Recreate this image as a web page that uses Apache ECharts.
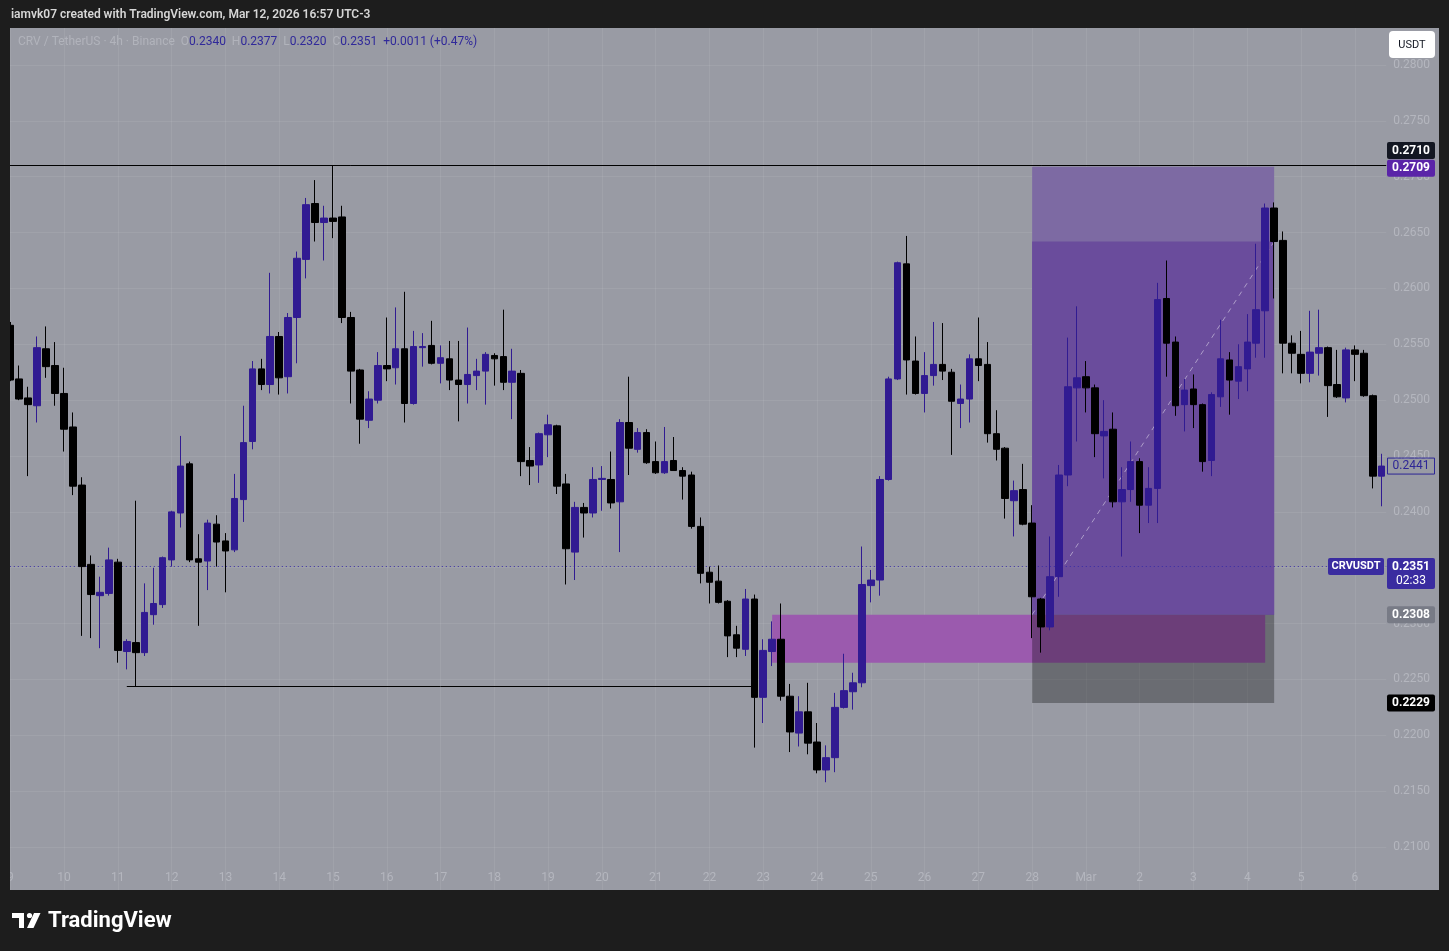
<!DOCTYPE html>
<html>
<head>
<meta charset="utf-8">
<title>CRV / TetherUS 4h</title>
<script src="https://cdn.jsdelivr.net/npm/echarts@6/dist/echarts.min.js"></script>
<style>
  html, body { margin: 0; padding: 0; background: #1d1d1d; }
  #chart { width: 1449px; height: 951px; }
</style>
</head>
<body>
<div id="chart"></div>
<script>
// 4h candles, Feb 9 00:00 -> Mar 6 12:00 (chart time UTC-3)
var opens = [
  0.2567, 0.2519, 0.2502, 0.2495, 0.2546, 0.2531, 0.2506, 0.2476, 0.2424, 0.2353,
  0.2325, 0.2327, 0.2355, 0.2275, 0.2283, 0.2274, 0.2308, 0.2317, 0.2357, 0.2399,
  0.2443, 0.2358, 0.2356, 0.2389, 0.2374, 0.2366, 0.2411, 0.2463, 0.2528, 0.2514,
  0.2557, 0.2521, 0.2574, 0.2626, 0.2676, 0.2659, 0.2663, 0.2664, 0.2574, 0.2527,
  0.2482, 0.2500, 0.2531, 0.2529, 0.2546, 0.2497, 0.2547, 0.2549, 0.2533, 0.2537,
  0.2518, 0.2514, 0.2522, 0.2526, 0.2540, 0.2539, 0.2516, 0.2524, 0.2446, 0.2442,
  0.2469, 0.2477, 0.2425, 0.2364, 0.2404, 0.2399, 0.2429, 0.2429, 0.2409, 0.2480,
  0.2456, 0.2471, 0.2445, 0.2435, 0.2446, 0.2437, 0.2433, 0.2387, 0.2346, 0.2338,
  0.2320, 0.2290, 0.2277, 0.2322, 0.2234, 0.2275, 0.2286, 0.2235, 0.2202, 0.2221,
  0.2194, 0.2169, 0.2180, 0.2225, 0.2239, 0.2247, 0.2334, 0.2339, 0.2429, 0.2519,
  0.2622, 0.2535, 0.2506, 0.2522, 0.2532, 0.2525, 0.2497, 0.2501, 0.2537, 0.2532,
  0.2470, 0.2457, 0.2410, 0.2420, 0.2390, 0.2322, 0.2297, 0.2342, 0.2433, 0.2511,
  0.2521, 0.2511, 0.2468, 0.2474, 0.2409, 0.2420, 0.2445, 0.2406, 0.2421, 0.2591,
  0.2552, 0.2496, 0.2510, 0.2496, 0.2446, 0.2503, 0.2536, 0.2517, 0.2528, 0.2551,
  0.2580, 0.2672, 0.2643, 0.2551, 0.2541, 0.2524, 0.2542, 0.2547, 0.2514, 0.2502,
  0.2545, 0.2542, 0.2504, 0.2432
];
var highs = [
  0.2570, 0.2531, 0.2512, 0.2557, 0.2566, 0.2552, 0.2529, 0.2489, 0.2431, 0.2361,
  0.2342, 0.2368, 0.2358, 0.2286, 0.2410, 0.2336, 0.2350, 0.2360, 0.2401, 0.2468,
  0.2445, 0.2380, 0.2393, 0.2397, 0.2381, 0.2434, 0.2495, 0.2535, 0.2537, 0.2614,
  0.2561, 0.2578, 0.2633, 0.2681, 0.2697, 0.2674, 0.2710, 0.2674, 0.2579, 0.2528,
  0.2508, 0.2543, 0.2574, 0.2583, 0.2597, 0.2562, 0.2560, 0.2571, 0.2549, 0.2553,
  0.2553, 0.2565, 0.2537, 0.2543, 0.2542, 0.2581, 0.2546, 0.2527, 0.2458, 0.2471,
  0.2487, 0.2478, 0.2434, 0.2409, 0.2408, 0.2440, 0.2441, 0.2454, 0.2483, 0.2521,
  0.2475, 0.2474, 0.2463, 0.2476, 0.2467, 0.2440, 0.2436, 0.2395, 0.2351, 0.2352,
  0.2321, 0.2298, 0.2331, 0.2326, 0.2286, 0.2302, 0.2318, 0.2246, 0.2235, 0.2247,
  0.2211, 0.2191, 0.2238, 0.2273, 0.2256, 0.2369, 0.2348, 0.2432, 0.2521, 0.2624,
  0.2647, 0.2557, 0.2543, 0.2570, 0.2569, 0.2528, 0.2514, 0.2541, 0.2574, 0.2552,
  0.2491, 0.2458, 0.2428, 0.2443, 0.2406, 0.2323, 0.2378, 0.2442, 0.2556, 0.2584,
  0.2535, 0.2514, 0.2500, 0.2489, 0.2440, 0.2463, 0.2448, 0.2440, 0.2605, 0.2625,
  0.2557, 0.2519, 0.2523, 0.2497, 0.2507, 0.2572, 0.2543, 0.2550, 0.2577, 0.2640,
  0.2676, 0.2677, 0.2651, 0.2558, 0.2562, 0.2580, 0.2581, 0.2548, 0.2545, 0.2547,
  0.2549, 0.2545, 0.2505, 0.2452
];
var lows = [
  0.2517, 0.2500, 0.2432, 0.2480, 0.2520, 0.2495, 0.2454, 0.2415, 0.2289, 0.2287,
  0.2278, 0.2325, 0.2265, 0.2259, 0.2244, 0.2271, 0.2299, 0.2314, 0.2351, 0.2386,
  0.2355, 0.2298, 0.2330, 0.2351, 0.2328, 0.2364, 0.2391, 0.2456, 0.2509, 0.2506,
  0.2505, 0.2506, 0.2533, 0.2609, 0.2642, 0.2625, 0.2645, 0.2569, 0.2497, 0.2461,
  0.2475, 0.2497, 0.2517, 0.2514, 0.2480, 0.2496, 0.2530, 0.2532, 0.2515, 0.2509,
  0.2481, 0.2497, 0.2509, 0.2496, 0.2513, 0.2509, 0.2483, 0.2432, 0.2424, 0.2426,
  0.2449, 0.2416, 0.2335, 0.2339, 0.2377, 0.2395, 0.2401, 0.2403, 0.2364, 0.2433,
  0.2453, 0.2443, 0.2434, 0.2434, 0.2437, 0.2411, 0.2385, 0.2336, 0.2318, 0.2318,
  0.2270, 0.2270, 0.2271, 0.2189, 0.2211, 0.2262, 0.2231, 0.2185, 0.2190, 0.2183,
  0.2166, 0.2158, 0.2167, 0.2224, 0.2223, 0.2243, 0.2319, 0.2325, 0.2428, 0.2518,
  0.2505, 0.2505, 0.2489, 0.2513, 0.2518, 0.2451, 0.2475, 0.2480, 0.2517, 0.2462,
  0.2446, 0.2394, 0.2378, 0.2388, 0.2287, 0.2274, 0.2294, 0.2324, 0.2423, 0.2463,
  0.2489, 0.2449, 0.2430, 0.2404, 0.2360, 0.2409, 0.2381, 0.2390, 0.2390, 0.2521,
  0.2486, 0.2472, 0.2475, 0.2436, 0.2432, 0.2494, 0.2487, 0.2501, 0.2508, 0.2538,
  0.2538, 0.2591, 0.2524, 0.2524, 0.2515, 0.2516, 0.2522, 0.2485, 0.2502, 0.2498,
  0.2517, 0.2503, 0.2421, 0.2405
];
var closes = [
  0.2518, 0.2501, 0.2496, 0.2547, 0.2530, 0.2506, 0.2474, 0.2423, 0.2351, 0.2326,
  0.2328, 0.2357, 0.2276, 0.2284, 0.2274, 0.2310, 0.2318, 0.2359, 0.2400, 0.2441,
  0.2357, 0.2355, 0.2390, 0.2373, 0.2365, 0.2412, 0.2462, 0.2528, 0.2514, 0.2557,
  0.2520, 0.2574, 0.2627, 0.2675, 0.2659, 0.2663, 0.2660, 0.2574, 0.2526, 0.2483,
  0.2501, 0.2531, 0.2528, 0.2546, 0.2497, 0.2548, 0.2548, 0.2533, 0.2538, 0.2518,
  0.2514, 0.2523, 0.2526, 0.2541, 0.2537, 0.2516, 0.2526, 0.2445, 0.2441, 0.2470,
  0.2478, 0.2423, 0.2367, 0.2404, 0.2399, 0.2429, 0.2430, 0.2408, 0.2480, 0.2457,
  0.2471, 0.2444, 0.2435, 0.2445, 0.2437, 0.2432, 0.2387, 0.2345, 0.2337, 0.2319,
  0.2289, 0.2278, 0.2322, 0.2234, 0.2276, 0.2286, 0.2235, 0.2203, 0.2221, 0.2193,
  0.2169, 0.2180, 0.2225, 0.2240, 0.2247, 0.2335, 0.2339, 0.2429, 0.2519, 0.2623,
  0.2536, 0.2506, 0.2522, 0.2532, 0.2526, 0.2499, 0.2501, 0.2537, 0.2531, 0.2470,
  0.2456, 0.2412, 0.2419, 0.2389, 0.2324, 0.2297, 0.2342, 0.2433, 0.2512, 0.2520,
  0.2511, 0.2470, 0.2472, 0.2409, 0.2420, 0.2445, 0.2406, 0.2421, 0.2590, 0.2551,
  0.2495, 0.2509, 0.2496, 0.2445, 0.2505, 0.2537, 0.2518, 0.2530, 0.2552, 0.2581,
  0.2672, 0.2642, 0.2551, 0.2542, 0.2524, 0.2543, 0.2547, 0.2513, 0.2503, 0.2545,
  0.2541, 0.2504, 0.2432, 0.2441
];

// time axis labels, one every 6 candles (one day)
var dayLabels = ['9', '10', '11', '12', '13', '14', '15', '16', '17', '18', '19', '20', '21',
  '22', '23', '24', '25', '26', '27', '28', 'Mar', '2', '3', '4', '5', '6'];

// drawn levels
var resistance = 0.2710;
var supportLow = 0.2244;
var lastPrice = 0.2351;
var lastCandle = 0.2441;
var entry = 0.2308, target = 0.2709, stop = 0.2229, filledTop = 0.2642;
var zoneTop = 0.2308, zoneBottom = 0.2265;

var start = Date.UTC(2026, 1, 9);
var categories = opens.map(function (v, i) {
  var d = new Date(start + i * 4 * 3600 * 1000);
  return (d.getUTCMonth() + 1) + '/' + d.getUTCDate() + ' ' + String(d.getUTCHours()).padStart(2, '0') + ':00';
});
var candles = opens.map(function (o, i) {
  return [o, closes[i], lows[i], highs[i]];
});

var FONT = 'Roboto, "Noto Sans", sans-serif';
var BULL = '#311b92';
var axisText = '#b4b6be';
var gridColor = 'rgba(255,255,255,0.07)';

var chart = echarts.init(document.getElementById('chart'));
chart.setOption({
  backgroundColor: '#999ba4',
  animation: false,
  textStyle: { fontFamily: FONT },
  grid: { left: 5.8, right: 62.8, top: 9.14, bottom: 48.1 },
  xAxis: {
    type: 'category',
    data: categories,
    boundaryGap: true,
    axisLine: { show: false },
    axisTick: { show: false },
    axisLabel: {
      inside: true,
      margin: 19,
      color: axisText,
      fontSize: 12,
      interval: function (i) { return i % 6 === 0; },
      formatter: function (v, i) { return dayLabels[i / 6] || ''; }
    },
    splitLine: {
      show: true,
      alignWithLabel: true,
      interval: function (i) { return i % 6 === 0; },
      lineStyle: { color: gridColor }
    }
  },
  yAxis: {
    type: 'value',
    position: 'right',
    scale: true,
    min: 0.205,
    max: 0.285,
    interval: 0.005,
    axisLine: { show: false },
    axisTick: { show: false },
    axisLabel: {
      color: axisText,
      fontSize: 12,
      margin: 7,
      showMinLabel: false,
      showMaxLabel: false,
      formatter: function (v) { return v.toFixed(4); }
    },
    splitLine: { lineStyle: { color: gridColor } }
  },
  series: [
    {
      // boxes of the drawings, kept under the candles
      type: 'line',
      data: [],
      z: 1,
      silent: true,
      markArea: {
        silent: true,
        data: [
          [{ coord: [85, zoneTop], itemStyle: { color: '#9b5aae' } }, { coord: [140, zoneBottom] }],
          [{ coord: [114, target], itemStyle: { color: '#7d6aa3' } }, { coord: [141, entry] }],
          [{ coord: [114, filledTop], itemStyle: { color: '#6a4c9c' } }, { coord: [141, entry] }],
          [{ coord: [114, entry], itemStyle: { color: 'rgba(0,0,0,0.3)' } }, { coord: [141, stop] }]
        ]
      }
    },
    {
      type: 'candlestick',
      name: 'CRVUSDT',
      data: candles,
      z: 5,
      barWidth: 7,
      itemStyle: {
        color: BULL, color0: '#000000',
        borderColor: BULL, borderColor0: '#000000', borderWidth: 1
      },
      markLine: {
        silent: true,
        symbol: 'none',
        precision: 4,
        animation: false,
        label: { show: false },
        data: [
          { yAxis: resistance, lineStyle: { color: '#000000', width: 1, type: 'solid' } },
          { yAxis: lastPrice, lineStyle: { color: '#3a2ca6', width: 1, type: [1, 3] } },
          [
            { coord: [13, supportLow], lineStyle: { color: '#000000', width: 1, type: 'solid' } },
            { coord: [83, supportLow], lineStyle: { color: '#000000', width: 1, type: 'solid' } }
          ],
          [
            { coord: [114, entry], lineStyle: { color: 'rgba(255,255,255,0.45)', width: 1, type: [5, 5] } },
            { coord: [141, filledTop], lineStyle: { color: 'rgba(255,255,255,0.45)', width: 1, type: [5, 5] } }
          ]
        ]
      }
    }
  ]
});

function py(p) { return chart.convertToPixel({ yAxisIndex: 0 }, p); }

function tag(price, text, bg, fg, dy) {
  var y = py(price) + (dy || 0);
  return [
    { type: 'rect', z: 50, shape: { x: 1387, y: y - 8.5, width: 48, height: 17, r: 2 }, style: { fill: bg } },
    { type: 'text', z: 51, style: { x: 1411, y: y, text: text, fill: fg, font: 'bold 12px ' + FONT, align: 'center', verticalAlign: 'middle' } }
  ];
}

var yLast = py(lastPrice);
var yCandle = py(lastCandle);
var els = [];
// dark frame around the chart panel
els.push({ type: 'rect', z: 100, shape: { x: 0, y: 0, width: 1449, height: 28 }, style: { fill: '#1d1d1d' } });
els.push({ type: 'rect', z: 100, shape: { x: 0, y: 0, width: 10, height: 951 }, style: { fill: '#1d1d1d' } });
els.push({ type: 'rect', z: 100, shape: { x: 1439, y: 0, width: 10, height: 951 }, style: { fill: '#1d1d1d' } });
els.push({ type: 'rect', z: 100, shape: { x: 0, y: 890, width: 1449, height: 61 }, style: { fill: '#1d1d1d' } });
els.push({ type: 'text', z: 101, style: { x: 11, y: 15, text: 'iamvk07 created with TradingView.com, Mar 12, 2026 16:57 UTC-3', fill: '#d6d6d6', font: '600 12px ' + FONT, verticalAlign: 'middle' } });

// TradingView logo
els.push({ type: 'rect', z: 101, shape: { x: 12, y: 913, width: 12, height: 5 }, style: { fill: '#ffffff' } });
els.push({ type: 'rect', z: 101, shape: { x: 19, y: 913, width: 5, height: 15 }, style: { fill: '#ffffff' } });
els.push({ type: 'circle', z: 101, shape: { cx: 29.5, cy: 915.5, r: 2.6 }, style: { fill: '#ffffff' } });
els.push({ type: 'polygon', z: 101, shape: { points: [[34, 913], [40.5, 913], [33.5, 928], [27, 928]] }, style: { fill: '#ffffff' } });
els.push({ type: 'text', z: 101, style: { x: 48, y: 921, text: 'TradingView', fill: '#ffffff', font: 'bold 22px ' + FONT, verticalAlign: 'middle' } });

// legend line
els.push({
  type: 'text', z: 60,
  style: {
    x: 18, y: 42, verticalAlign: 'middle',
    text: '{n|CRV / TetherUS · 4h · Binance}  {k|O}{v|0.2340}  {k|H}{v|0.2377}  {k|L}{v|0.2320}  {k|C}{v|0.2351}  {v|+0.0011 (+0.47%)}',
    font: '12px ' + FONT,
    rich: {
      n: { fill: '#b1b3bb', font: '12px ' + FONT },
      k: { fill: '#b1b3bb', font: '12px ' + FONT },
      v: { fill: '#30299a', font: '12px ' + FONT }
    }
  }
});

// currency button
els.push({ type: 'rect', z: 60, shape: { x: 1389, y: 31, width: 46, height: 27, r: 4 }, style: { fill: '#ffffff' } });
els.push({ type: 'text', z: 61, style: { x: 1412, y: 45, text: 'USDT', fill: '#131722', font: '11px ' + FONT, align: 'center', verticalAlign: 'middle' } });

// price scale tags
els = els.concat(tag(resistance, '0.2710', '#131722', '#ffffff', -15));
els = els.concat(tag(target, '0.2709', '#5a24a8', '#ffffff', 1.5));
els = els.concat(tag(entry, '0.2308', '#787b86', '#ffffff', 0));
els = els.concat(tag(stop, '0.2229', '#000000', '#ffffff', 0));
els.push({ type: 'rect', z: 50, shape: { x: 1387.5, y: yCandle - 8, width: 47, height: 16 }, style: { fill: 'rgba(0,0,0,0)', stroke: '#2d2696', lineWidth: 1 } });
els.push({ type: 'text', z: 51, style: { x: 1411, y: yCandle, text: lastCandle.toFixed(4), fill: '#2d2696', font: '12px ' + FONT, align: 'center', verticalAlign: 'middle' } });
els.push({ type: 'rect', z: 50, shape: { x: 1328, y: yLast - 8.5, width: 56, height: 17, r: 2 }, style: { fill: '#3a2ca0' } });
els.push({ type: 'text', z: 51, style: { x: 1356, y: yLast, text: 'CRVUSDT', fill: '#ffffff', font: 'bold 11px ' + FONT, align: 'center', verticalAlign: 'middle' } });
els.push({ type: 'rect', z: 50, shape: { x: 1387, y: yLast - 8.5, width: 48, height: 31, r: 2 }, style: { fill: '#3a2ca0' } });
els.push({ type: 'text', z: 51, style: { x: 1411, y: yLast, text: lastPrice.toFixed(4), fill: '#ffffff', font: 'bold 12px ' + FONT, align: 'center', verticalAlign: 'middle' } });
els.push({ type: 'text', z: 51, style: { x: 1411, y: yLast + 14, text: '02:33', fill: '#ffffff', font: '12px ' + FONT, align: 'center', verticalAlign: 'middle' } });

chart.setOption({ graphic: { elements: els } });
</script>
</body>
</html>
